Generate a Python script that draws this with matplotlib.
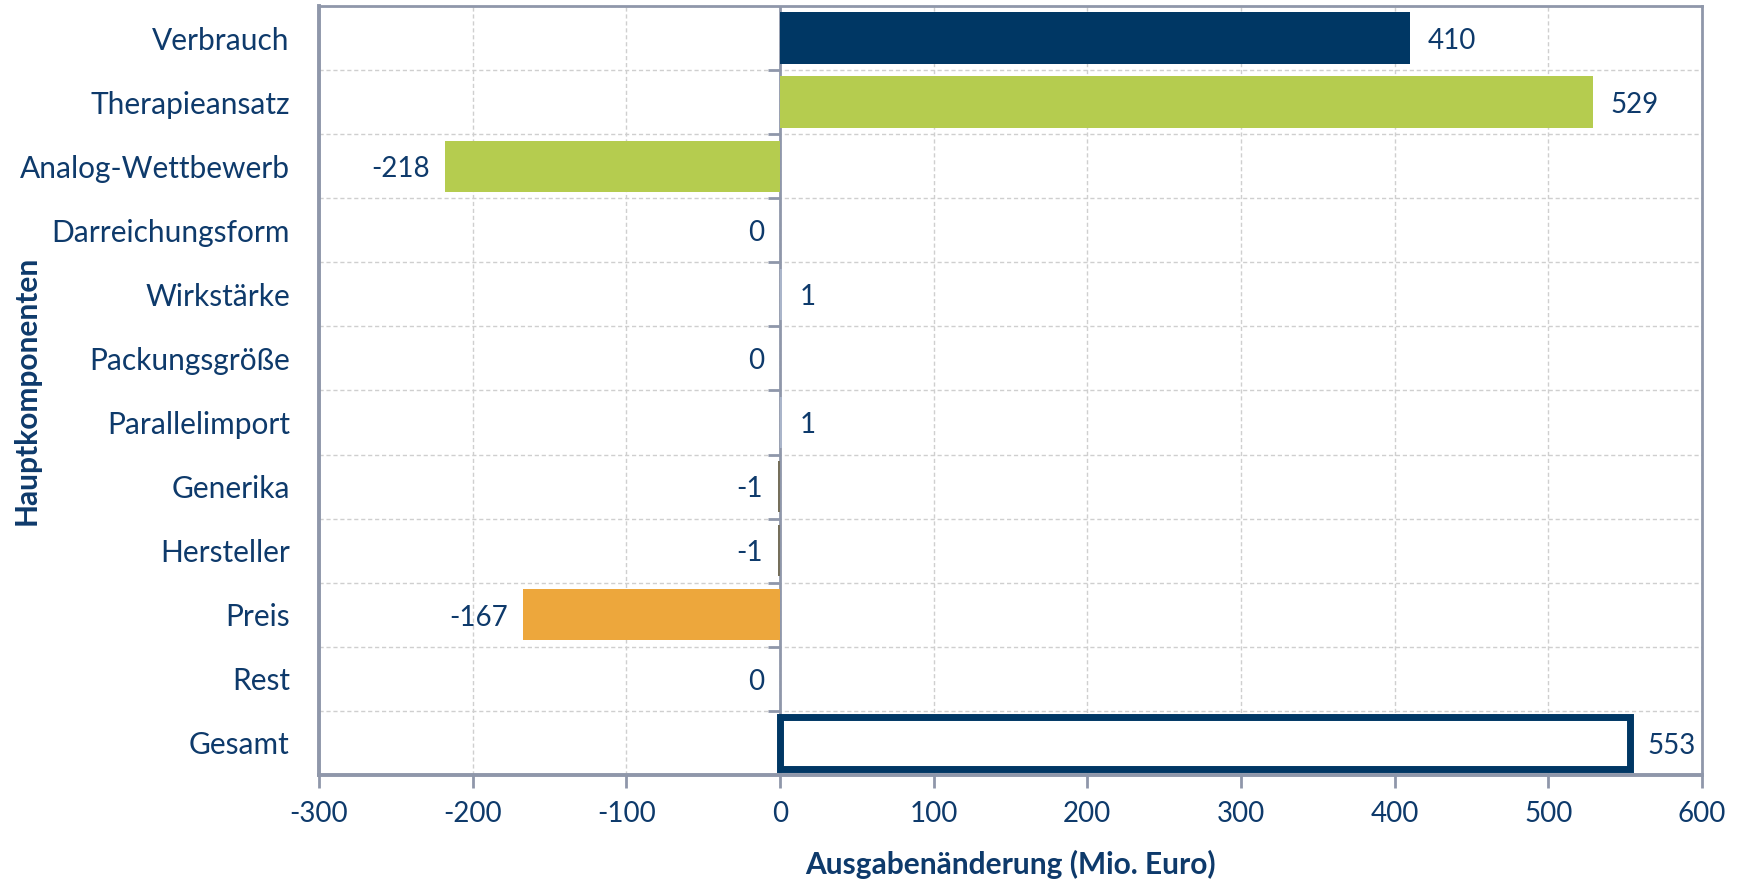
"""
Ausgabenänderung nach Hauptkomponenten (Mio. Euro)
"""

import numpy as np
import matplotlib.pyplot as plt

plt.rcParams['font.family'] = ['Lato', 'DejaVu Sans']

#%%

# data

categories = ['Verbrauch', 'Therapieansatz', 'Analog-Wettbewerb', 'Darreichungsform',
              'Wirkstärke', 'Packungsgröße', 'Parallelimport', 'Generika',
              'Hersteller', 'Preis', 'Rest', 'Gesamt']
values = [410, 529, -218, 0, 1, 0, 1, -1, -1, -167, 0, 553]
bar_colors = ['#003764', '#b5cc4f', '#b5cc4f', '#b5cc4f',
              '#aab5ca', '#aab5ca', '#aab5ca', '#756f5b',
              '#756f5b', '#eda73c', '#eda73c', 'white']
xticks = [-300, -200, -100, 0, 100, 200, 300, 400, 500, 600]

text_color = '#0e3a6b'
frame_color = '#8f97aa'

#%%

fig = plt.figure(figsize=(17.44, 8.8), dpi=100)
ax = fig.add_axes([0.1829, 0.1193, 0.7930, 0.8739])

y = np.arange(len(categories))
bars = ax.barh(y, values, height=0.8, color=bar_colors, zorder=3)

# Gesamt bar is an outlined box
total = bars[-1]
total.set_edgecolor('#003764')
total.set_linewidth(5)

ax.set_xlim(xticks[0], xticks[-1])
ax.set_ylim(len(categories) - 0.5, -0.5)

# value labels
for yi, v in zip(y, values):
    if v > 0:
        ax.annotate(str(v), (v, yi), xytext=(13, -2), textcoords='offset points',
                    ha='left', va='center', fontsize=20, color=text_color, zorder=4)
    else:
        ax.annotate(str(v), (v, yi), xytext=(-11, -2), textcoords='offset points',
                    ha='right', va='center', fontsize=20, color=text_color, zorder=4)

# category axis
ax.set_yticks(y)
ax.set_yticklabels(categories, fontsize=21.5, color=text_color)
ax.set_yticks(np.arange(len(categories) + 1) - 0.5, minor=True)
ax.tick_params(axis='y', which='major', length=0, pad=21)
ax.tick_params(axis='y', which='minor', length=0)

ax.set_xticks(xticks)
ax.set_xticklabels([str(t) for t in xticks], fontsize=20, color=text_color)
ax.tick_params(axis='x', length=9, width=2, color=frame_color, pad=10, direction='out')

# dashed grid
ax.grid(axis='x', which='major', linestyle=(0, (3, 2)), color='#cfcfcf', linewidth=1, zorder=0)
ax.grid(axis='y', which='minor', linestyle=(0, (3, 2)), color='#cfcfcf', linewidth=1, zorder=0)

# vertical axis line at zero with its tick marks
ax.axvline(0, color=frame_color, linewidth=2, zorder=2)
bounds = np.arange(1, len(categories)) - 0.5
ax.plot(np.zeros(len(bounds)), bounds, linestyle='none', marker=0,
        markersize=9, markeredgewidth=2, color=frame_color, zorder=2)

for side in ['top', 'right']:
    ax.spines[side].set_color(frame_color)
    ax.spines[side].set_linewidth(2)
for side in ['left', 'bottom']:
    ax.spines[side].set_color(frame_color)
    ax.spines[side].set_linewidth(2.8)

ax.set_xlabel('Ausgabenänderung (Mio. Euro)', fontsize=21.5, fontweight='bold',
              color=text_color, labelpad=16)
ax.set_ylabel('Hauptkomponenten', fontsize=21.5, fontweight='bold', color=text_color)
ax.yaxis.set_label_coords(-0.201, 0.5)

fig.savefig('out.png', dpi=100)
